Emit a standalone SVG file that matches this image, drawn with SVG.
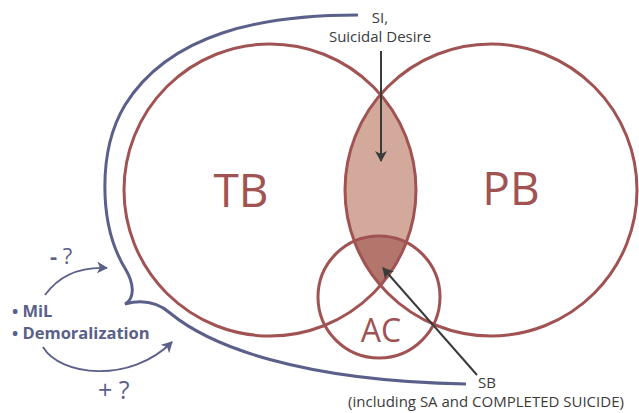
<svg xmlns="http://www.w3.org/2000/svg" width="639" height="413" viewBox="0 0 639 413">
<style>
.circ{fill:none;stroke:#a05352;stroke-width:3}
.blue{fill:none;stroke:#5a6089;stroke-width:3}
.barrow{fill:none;stroke:#5a6089;stroke-width:1.8}
.dark{fill:none;stroke:#3b3b3b;stroke-width:2}
.big{font-family:"Open Sans","Liberation Sans",sans-serif;fill:#a05352}
.lbl{font-family:"Open Sans","Liberation Sans",sans-serif;fill:#3b3b3b;font-size:15px}
.bl{font-family:"Open Sans","Liberation Sans",sans-serif;fill:#5a6089;font-weight:bold}
.nw{font-weight:normal}
</style>
<defs>
<marker id="ad" markerWidth="12" markerHeight="12" refX="10" refY="6" orient="auto" markerUnits="userSpaceOnUse">
<path d="M0,0 L11,6 L0,12 L3,6 Z" fill="#3b3b3b"/>
</marker>
<marker id="ab" markerWidth="12" markerHeight="12" refX="10" refY="6" orient="auto" markerUnits="userSpaceOnUse">
<path d="M0,0 L11,6 L0,12 L3,6 Z" fill="#5a6089"/>
</marker>
<clipPath id="lensclip">
<path d="M380.5 94.6 A146 146 0 0 1 380.5 285.4 A146 146 0 0 1 380.5 94.6 Z"/>
</clipPath>
</defs>
<rect width="639" height="413" fill="#ffffff"/>
<g id="fills">
<path d="M380.5 94.6 A146 146 0 0 1 380.5 285.4 A146 146 0 0 1 380.5 94.6 Z" fill="#d3a99c"/>
<circle cx="379" cy="297" r="61" fill="#b3766c" clip-path="url(#lensclip)"/>
</g>
<g id="TB">
<circle class="circ" cx="270" cy="190" r="146"/>
<text class="big" x="241" y="207" font-size="46" text-anchor="middle">TB</text>
</g>
<g id="PB">
<circle class="circ" cx="491" cy="190" r="146"/>
<text class="big" x="511" y="205" font-size="46" text-anchor="middle">PB</text>
</g>
<g id="AC">
<circle class="circ" cx="379" cy="297" r="61"/>
<text class="big" x="381" y="342" font-size="32" text-anchor="middle">AC</text>
</g>
<g id="outline">
<path class="blue" d="M358 15 C262 15 170 33 125 105 C98 150 98 225 126 270 C133 282 136 298 125 304 C140 300 156 301 170 313 C210 346 300 381 466 384"/>
</g>
<g id="SI">
<text class="lbl" x="380" y="23" text-anchor="middle" font-size="16">SI,</text>
<text class="lbl" x="380" y="42" text-anchor="middle" font-size="16">Suicidal Desire</text>
</g>
<g id="SB">
<text class="lbl" x="487" y="388" text-anchor="middle" font-size="16">SB</text>
<text class="lbl" x="486" y="407" text-anchor="middle" font-size="16">(including SA and COMPLETED SUICIDE)</text>
</g>
<g id="moderators">
<text class="bl" x="12" y="317" font-size="16.5">• MiL</text>
<text class="bl" x="12" y="339" font-size="16.5">• Demoralization</text>
<text class="bl" x="50" y="264" font-size="22">- <tspan class="nw">?</tspan></text>
<text class="bl nw" x="98" y="399" font-size="25">+ ?</text>
</g>
<g id="connectors">
<path class="dark" d="M381 51 L381 161" marker-end="url(#ad)"/>
<path class="dark" d="M477 375 L383 268" marker-end="url(#ad)"/>
<path class="barrow" d="M45 295 Q66 266 107 268" marker-end="url(#ab)"/>
<path class="barrow" d="M43 347 C60 376 130 384 172 342" marker-end="url(#ab)"/>
</g>
</svg>
